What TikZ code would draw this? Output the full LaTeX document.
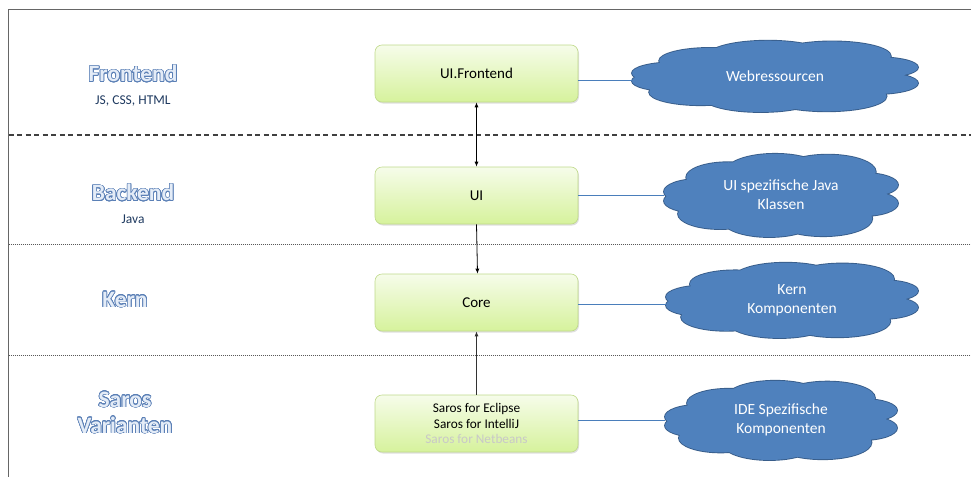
\documentclass[tikz,border=0pt]{standalone}
\usepackage{fontspec}
\setmainfont{Carlito}
\usepackage[copies]{contour}
\contourlength{0.7pt}
\contournumber{24}
\usetikzlibrary{arrows.meta,shadows}

\definecolor{boxtop}{HTML}{F6FCEA}
\definecolor{boxbot}{HTML}{D6F29C}
\definecolor{boxline}{HTML}{BFD98A}
\definecolor{cloudfill}{HTML}{4F81BD}
\definecolor{cloudline}{HTML}{385D8A}
\definecolor{linkblue}{HTML}{4A7EBB}
\definecolor{titlefill}{HTML}{E4ECF7}
\definecolor{titleline}{HTML}{5B80B6}
\definecolor{subtext}{HTML}{1F3A60}
\definecolor{greytext}{HTML}{C8C8C8}

\newcommand{\layertitle}[1]{\contour{titleline}{\textcolor{titlefill}{#1}}}

% cloud outline: a ring of puffs in a unit frame, stretched to the cloud's size
\def\puffring{%
  (-0.70, 0.08) circle (0.30)
  (-0.45, 0.42) circle (0.36)
  (-0.05, 0.56) circle (0.42)
  ( 0.40, 0.55) circle (0.41)
  ( 0.72, 0.24) circle (0.28)
  ( 0.70,-0.20) circle (0.30)
  ( 0.36,-0.56) circle (0.42)
  (-0.10,-0.60) circle (0.40)
  (-0.52,-0.45) circle (0.36)
  (-0.72,-0.14) circle (0.28)}
\newcommand{\cloudbody}[4]{%
  \begin{scope}[shift={(#1,#2)}, xscale=#3, yscale=-#4]
    \draw[cloudline, line width=1.8pt] \puffring;
    \fill[cloudfill] \puffring (0,0) ellipse (0.74 and 0.62);
  \end{scope}}

\tikzset{
  layerbox/.style={rounded corners=7pt, draw=boxline, line width=0.6pt,
    top color=boxtop, bottom color=boxbot,
    minimum width=203pt, minimum height=57pt, align=center,
    font=\fontsize{15}{18}\selectfont,
    drop shadow={shadow xshift=1pt, shadow yshift=-1.5pt, opacity=0.25}},
  bubble/.style={text=white, align=center, inner sep=0pt,
    font=\fontsize{15.5}{19}\selectfont},
  title/.style={font=\fontsize{23.5}{25}\selectfont\bfseries, align=center},
  subtitle/.style={font=\fontsize{13.5}{15}\selectfont, text=subtext},
  link/.style={draw=linkblue, line width=0.7pt},
  flow/.style={draw=black, line width=0.8pt, -{Latex[length=5pt,width=4pt]}},
  bothflow/.style={draw=black, line width=0.8pt, {Latex[length=5pt,width=4pt]}-{Latex[length=5pt,width=4pt]}},
}

\begin{document}
\begin{tikzpicture}[x=1pt,y=-1pt]
  \useasboundingbox (0,0) rectangle (971,477);

  % outer frame (top and left edges)
  \coordinate (frameTL) at (8.5,9.5);
  \coordinate (frameTR) at (971,9.5);
  \coordinate (frameBL) at (8.5,477);
  \draw[line width=1.4pt, draw=black!60] (frameTR) -- (frameTL) -- (frameBL);

  % layer separators
  \coordinate (sepA1) at (8.5,135); \coordinate (sepA2) at (971,135);
  \coordinate (sepB1) at (8.5,244); \coordinate (sepB2) at (971,244);
  \coordinate (sepC1) at (8.5,355); \coordinate (sepC2) at (971,355);
  \draw[line width=1.2pt, draw=black!75, dash pattern=on 5pt off 3.5pt] (sepA1) -- (sepA2);
  \draw[line width=1pt, draw=black!65, dash pattern=on 1pt off 1pt] (sepB1) -- (sepB2);
  \draw[line width=1pt, draw=black!65, dash pattern=on 1pt off 1pt] (sepC1) -- (sepC2);

  % layer titles
  \node[title] (tFront) at (133,74) {\layertitle{Frontend}};
  \node[subtitle] (sFront) at (133,101) {JS, CSS, HTML};
  \node[title] (tBack) at (133,193) {\layertitle{Backend}};
  \node[subtitle] (sBack) at (133,219) {Java};
  \node[title] (tKern) at (125,300) {\layertitle{Kern}};
  \node[title] (tSaros) at (125,413) {\layertitle{Saros}\\[1pt]\layertitle{Varianten}};

  % component boxes
  \node[layerbox] (fe) at (476.5,73.5) {UI.Frontend};
  \node[layerbox] (ui) at (476.5,195.5) {UI};
  \node[layerbox] (core) at (476.5,302.5) {Core};
  \node[layerbox, font=\fontsize{13.3}{15.5}\selectfont] (saros) at (476.5,423.5)
    {Saros for Eclipse\\Saros for IntelliJ\\\textcolor{greytext}{Saros for Netbeans}};

  % clouds
  \cloudbody{775}{76}{143}{36}
  \cloudbody{781}{195}{117}{42}
  \cloudbody{792}{300}{126}{38}
  \cloudbody{781}{420}{116}{40}
  \node[bubble, minimum width=286pt, minimum height=72pt] (web) at (775,76) {Webressourcen};
  \node[bubble, minimum width=234pt, minimum height=84pt] (uicl) at (781,195) {UI spezifische Java\\Klassen};
  \node[bubble, minimum width=252pt, minimum height=76pt] (kerncl) at (792,300) {Kern\\Komponenten};
  \node[bubble, minimum width=232pt, minimum height=80pt] (idecl) at (781,420) {IDE Spezifische\\Komponenten};

  % links from boxes to clouds
  \draw[link] (fe.east |- 0,80) -- (web.west |- 0,80);
  \draw[link] (ui.east |- uicl.west) -- (uicl.west);
  \draw[link] (core.east |- 0,304) -- (kerncl.west |- 0,304);
  \draw[link] (saros.east |- idecl.west) -- (idecl.west);

  % dependencies between layers
  \draw[bothflow] (fe.south) -- (ui.north);
  \draw[flow] (ui.south) -- ([xshift=1pt]core.north);
  \draw[flow, line width=1.4pt, draw=black!80] (saros.north) -- (core.south);
\end{tikzpicture}
\end{document}
